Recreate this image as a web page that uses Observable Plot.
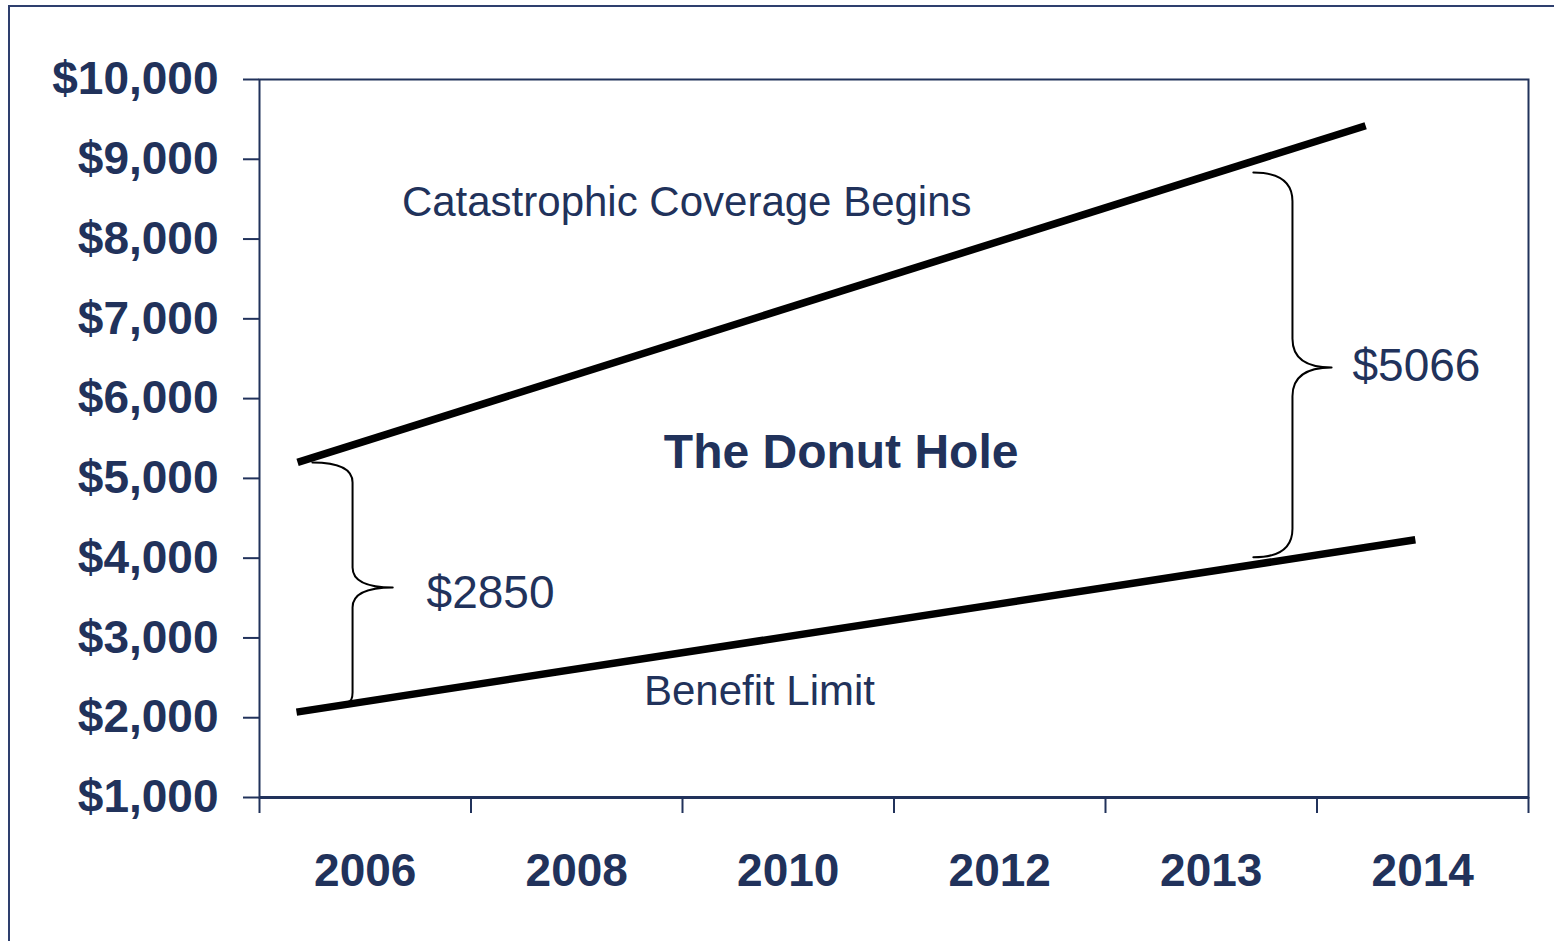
<!DOCTYPE html>
<html>
<head>
<meta charset="utf-8">
<script src="https://cdn.jsdelivr.net/npm/d3@7"></script>
<script src="https://cdn.jsdelivr.net/npm/@observablehq/plot@0.6"></script>
<style>
  html, body { margin: 0; padding: 0; background: #fff; overflow: hidden; }
  #wrap { position: relative; width: 1554px; height: 941px; }
  #border { position: absolute; left: 8px; top: 5px; width: 1600px; height: 1000px; border: 2px solid #2e3f6e; box-sizing: border-box; }
  #chart { position: absolute; left: 0; top: 0; }
</style>
</head>
<body>
<div id="wrap"><div id="border"></div><div id="chart"></div></div>
<script>
// ---- data ----
const years = ["2006", "2008", "2010", "2012", "2013", "2014"];
const yTicks = [1000, 2000, 3000, 4000, 5000, 6000, 7000, 8000, 9000, 10000];
// line endpoints (x in category-slot units, 0..6; y in dollars)
const catastrophicX = [0.18, 5.23];
const catastrophicY = [5200, 9420];
const benefitX = [0.175, 5.465];
const benefitY = [2070, 4230];
const gapLabels = ["$2850", "$5066"];
const noteTexts = ["Catastrophic Coverage Begins", "The Donut Hole", "Benefit Limit"];

// ---- annotation placement (data units) ----
const braces = [
  {x: 0.44, wTop: 0.19, wBot: 0.025, top: 5200, bottom: 2195, tip: 3633, r: 250, rBot: 120},
  {x: 4.884, wTop: 0.185, wBot: 0.185, top: 8834, bottom: 4010, tip: 6390, r: 360, rBot: 360}
];

const navy = "#21325b";
const font = "'Liberation Sans', Arial, sans-serif";

const upper = catastrophicX.map((x, i) => ({x, y: catastrophicY[i]}));
const lower = benefitX.map((x, i) => ({x, y: benefitY[i]}));

function braceRows(b, id) {
  const pts = [
    [b.x - b.wTop, b.top], [b.x, b.top], [b.x, b.top - b.r],
    [b.x, b.top - b.r], [b.x, b.tip + b.r],
    [b.x, b.tip], [b.x + b.wTop, b.tip],
    [b.x, b.tip], [b.x, b.tip - b.r],
    [b.x, b.tip - b.r], [b.x, b.bottom + b.rBot],
    [b.x, b.bottom], [b.x - b.wBot, b.bottom]
  ];
  return pts.map(([x, y]) => ({x, y, id}));
}
const braceData = braces.flatMap((b, i) => braceRows(b, i));

// quadratic chain curve: M p0, Q p1 p2, Q p3 p4, ...
function quadChain(context) {
  let pts = [];
  return {
    areaStart() {}, areaEnd() {},
    lineStart() { pts = []; },
    point(x, y) { pts.push([+x, +y]); },
    lineEnd() {
      if (!pts.length) return;
      context.moveTo(pts[0][0], pts[0][1]);
      for (let i = 1; i + 1 < pts.length; i += 2) {
        context.quadraticCurveTo(pts[i][0], pts[i][1], pts[i + 1][0], pts[i + 1][1]);
      }
    }
  };
}

const notes = [
  {x: 2.02, y: 8458, text: noteTexts[0], size: 42, weight: "normal", anchor: "middle"},
  {x: 2.75, y: 5325, text: noteTexts[1], size: 48, weight: "bold", anchor: "middle"},
  {x: 2.364, y: 2329, text: noteTexts[2], size: 42, weight: "normal", anchor: "middle"},
  {x: 0.79, y: 3557, text: gapLabels[0], size: 46, weight: "normal", anchor: "start"},
  {x: 5.168, y: 6403, text: gapLabels[1], size: 46, weight: "normal", anchor: "start"}
];

const plot = Plot.plot({
  width: 1554,
  height: 941,
  marginLeft: 259,
  marginRight: 26,
  marginTop: 79,
  marginBottom: 144,
  style: {fontFamily: font, background: "transparent", overflow: "visible"},
  x: {type: "linear", domain: [0, 6]},
  y: {type: "linear", domain: [1000, 10000]},
  marks: [
    Plot.frame({stroke: navy, strokeWidth: 2}),
    Plot.ruleY([1000], {stroke: navy, strokeWidth: 3}),
    Plot.axisY({ticks: yTicks, tickSize: 16, tickPadding: 25, tickFormat: d => "$" + d3.format(",")(d),
      color: navy, stroke: navy, strokeWidth: 2, fontSize: 46, fontWeight: "bold", fontFamily: font, label: null}),
    Plot.axisX({ticks: d3.range(0, years.length + 1), tickSize: 16, tickFormat: () => "",
      stroke: navy, strokeWidth: 2, label: null}),
    Plot.axisX({ticks: years.map((_, i) => i + 0.5), tickSize: 0, tickPadding: 56,
      tickFormat: d => years[Math.floor(d)], color: navy, fontSize: 46, fontWeight: "bold", fontFamily: font, label: null}),
    Plot.line(braceData, {x: "x", y: "y", z: "id", curve: quadChain, stroke: "black", strokeWidth: 2, fill: "none"}),
    Plot.line(upper, {x: "x", y: "y", stroke: "black", strokeWidth: 7.5, strokeLinecap: "butt"}),
    Plot.line(lower, {x: "x", y: "y", stroke: "black", strokeWidth: 7.5, strokeLinecap: "butt"}),
    ...notes.map(n => Plot.text([n], {x: "x", y: "y", text: "text", fontSize: n.size, fontWeight: n.weight,
      textAnchor: n.anchor, fill: navy, fontFamily: font}))
  ]
});
document.getElementById("chart").appendChild(plot);
</script>
</body>
</html>
